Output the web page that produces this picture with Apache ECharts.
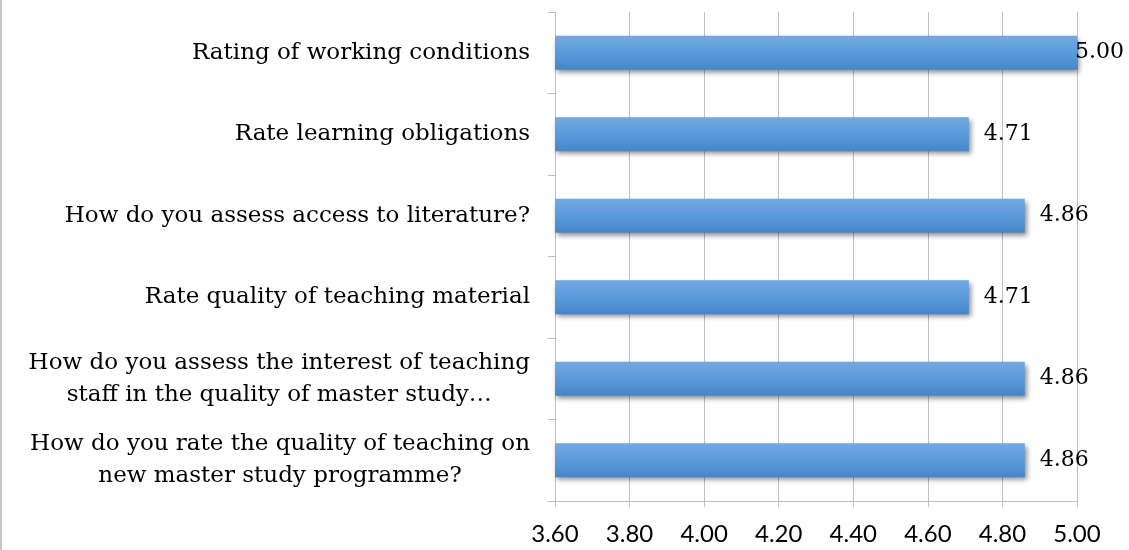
<!DOCTYPE html>
<html>
<head>
<meta charset="utf-8">
<script src="https://cdn.jsdelivr.net/npm/echarts@6/dist/echarts.min.js"></script>
<style>
html,body{margin:0;padding:0;background:#fff;}
#chart{width:1129px;height:550px;}
</style>
</head>
<body>
<div id="chart"></div>
<script>
// Categories listed bottom-to-top (ECharts category yAxis starts at bottom)
var categories = [
  "How do you rate the quality of teaching on\nnew master study programme?",
  "How do you assess the interest of teaching\nstaff in the quality of master study\u2026",
  "Rate quality of teaching material",
  "How do you assess access to literature?",
  "Rate learning obligations",
  "Rating of working conditions"
];
var values = [4.86, 4.86, 4.71, 4.86, 4.71, 5.00];
var xTicks = [3.6, 3.8, 4.0, 4.2, 4.4, 4.6, 4.8, 5.0];

var serif = 'DejaVu Serif';
var xMax = xTicks[xTicks.length - 1];
var chart = echarts.init(document.getElementById('chart'));
var option = {
  animation: false,
  backgroundColor: '#ffffff',
  grid: { left: 555, right: 52, top: 12, bottom: 49, containLabel: false },
  xAxis: {
    type: 'value',
    min: xTicks[0],
    max: xMax,
    interval: 0.2,
    axisLine: { show: true, lineStyle: { color: '#bfbfbf', width: 1 } },
    axisTick: { show: true, length: 6, lineStyle: { color: '#bfbfbf' } },
    splitLine: { show: true, lineStyle: { color: '#bfbfbf', width: 1 } },
    axisLabel: {
      margin: 21,
      fontFamily: 'Lato',
      fontSize: 24,
      color: '#000',
      formatter: function (v) { return v.toFixed(2); }
    }
  },
  yAxis: {
    type: 'category',
    data: categories,
    axisLine: { show: true, lineStyle: { color: '#bfbfbf', width: 1 } },
    axisTick: { show: true, length: 7, lineStyle: { color: '#bfbfbf' } },
    splitLine: { show: false },
    axisLabel: {
      margin: 25,
      color: '#000',
      fontFamily: serif,
      fontSize: 23,
      lineHeight: 32,
      formatter: function (v) {
        return v.split('\n').map(function (s) { return '{c|' + s + '}'; }).join('\n');
      },
      rich: {
        c: { align: 'center', fontFamily: serif, fontSize: 23, lineHeight: 32, color: '#000' }
      }
    }
  },
  series: [{
    type: 'bar',
    data: values.map(function (v) {
      // label at the axis end is pulled back inside the chart, as in the original
      return v >= xMax ? { value: v, label: { distance: -2 } } : v;
    }),
    barWidth: 34,
    itemStyle: {
      color: new echarts.graphic.LinearGradient(0, 0, 0, 1, [
        { offset: 0, color: '#73a9df' },
        { offset: 0.5, color: '#5a9bdc' },
        { offset: 1, color: '#4686c8' }
      ]),
      shadowColor: 'rgba(0,0,0,0.45)',
      shadowBlur: 5,
      shadowOffsetX: 2,
      shadowOffsetY: 3
    },
    label: {
      show: true,
      position: 'right',
      distance: 15,
      color: '#000',
      fontFamily: serif,
      fontSize: 22,
      formatter: function (p) { return p.value.toFixed(2); }
    }
  }],
  graphic: [{
    type: 'rect',
    shape: { x: 0, y: 0, width: 2, height: 550 },
    style: { fill: '#c8c8c8' },
    silent: true
  }]
};
chart.setOption(option);
</script>
</body>
</html>
